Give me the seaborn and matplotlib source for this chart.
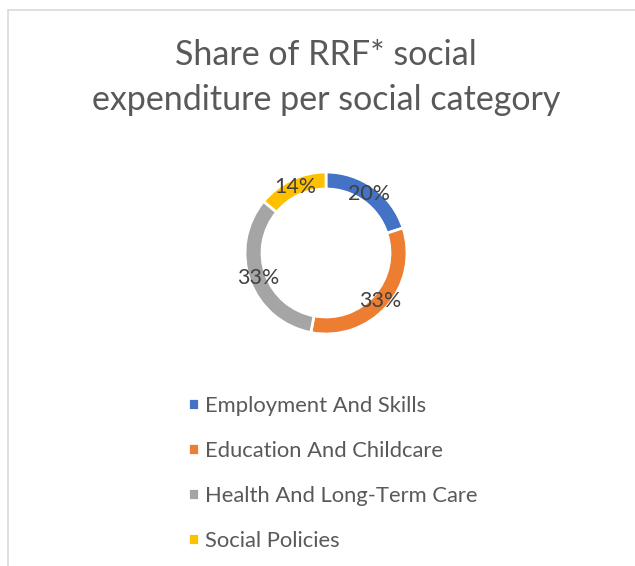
import matplotlib
matplotlib.use("Agg")
import matplotlib.pyplot as plt
from matplotlib.lines import Line2D
import numpy as np
import seaborn as sns

categories = ["Employment And Skills", "Education And Childcare",
              "Health And Long-Term Care", "Social Policies"]
shares = [20, 33, 33, 14]
colors = ["#4472C4", "#ED7D31", "#A5A5A5", "#FFC000"]

sns.set_style("white")
plt.rcParams["font.family"] = ["Lato", "DejaVu Sans"]

W, H = 635, 566
fig = plt.figure(figsize=(W / 100, H / 100), dpi=100)

# chart border (only top and left visible in the crop)
fig.add_artist(Line2D([8 / W, 8 / W], [0, 1 - 10 / H], color="#d9d9d9", lw=1.2))
fig.add_artist(Line2D([8 / W, 1], [1 - 10 / H, 1 - 10 / H], color="#d9d9d9", lw=1.2))

fig.text(326 / W, 1 - 65 / H, "Share of RRF* social", ha="center", va="baseline",
         fontsize=24.5, color="#595959")
fig.text(326 / W, 1 - 110 / H, "expenditure per social category", ha="center", va="baseline",
         fontsize=24.5, color="#595959")

cx, cy, r = 326, 253, 81
ax = fig.add_axes([(cx - 100) / W, (H - cy - 100) / H, 200 / W, 200 / H])
wedges, _ = ax.pie(shares, colors=colors, startangle=90, counterclock=False,
                   radius=1, wedgeprops=dict(width=0.21, edgecolor="white", linewidth=2))
lim = 100 / r
ax.set_xlim(-lim, lim)
ax.set_ylim(-lim, lim)
ax.set_aspect("equal")
ax.axis("off")

start = 90.0
for val in shares:
    mid = np.deg2rad(start - val * 3.6 / 2)
    ax.text(0.895 * np.cos(mid), 0.895 * np.sin(mid), f"{val}%", ha="center", va="center",
            fontsize=15.4, color="#404040")
    start -= val * 3.6

fig.legend(wedges, categories, loc="upper left", bbox_to_anchor=(168 / W, 1 - 376 / H),
           frameon=False, fontsize=15.8, labelcolor="#595959", handlelength=0.5,
           handleheight=0.5, handletextpad=0.3, labelspacing=1.14)

fig.savefig("out.png", dpi=100, facecolor="white")
